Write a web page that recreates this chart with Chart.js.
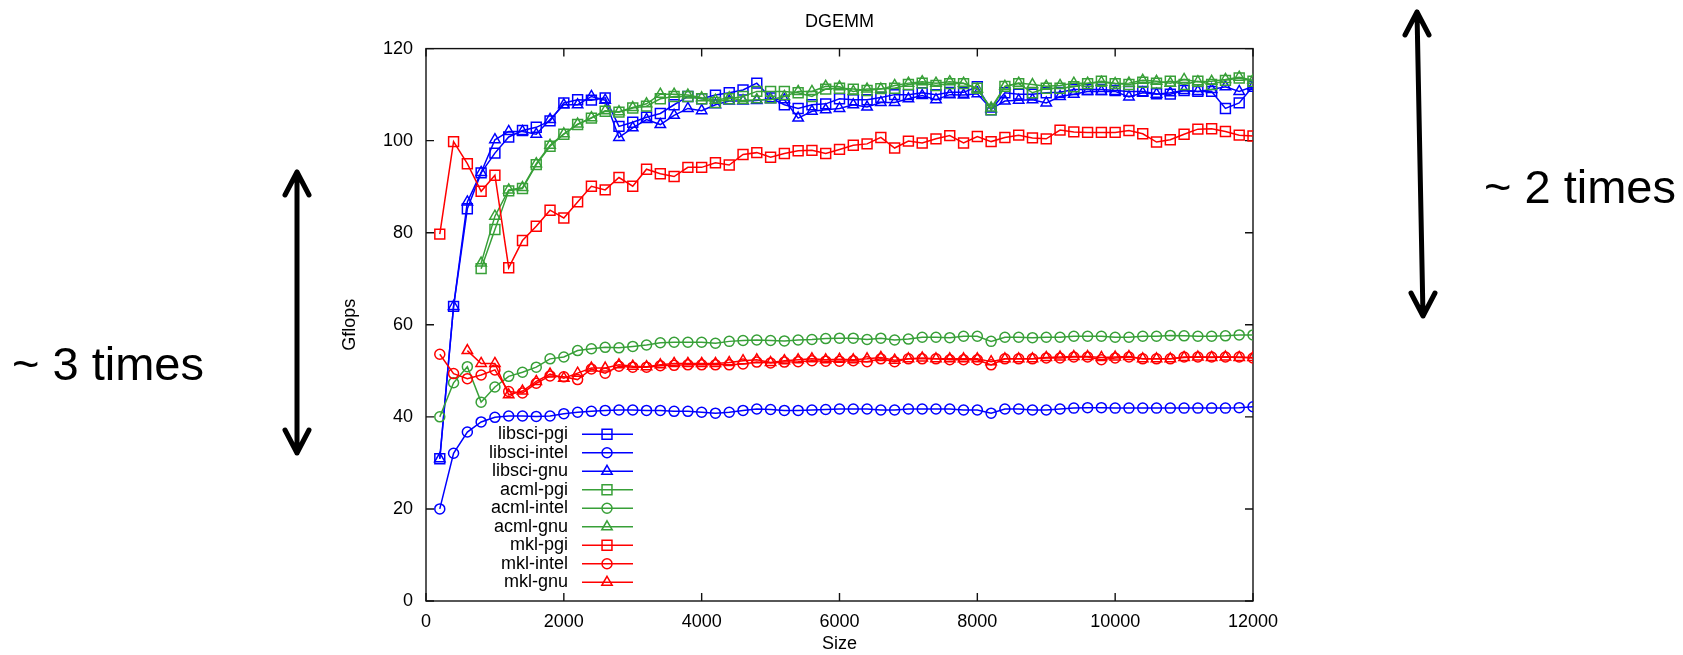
<!DOCTYPE html>
<html>
<head>
<meta charset="utf-8">
<title>DGEMM</title>
<script src="https://cdn.jsdelivr.net/npm/chart.js@4.4.1/dist/chart.umd.min.js"></script>
<style>
  html, body { margin: 0; padding: 0; background: #fff; }
  .chart-container { position: relative; width: 1683px; height: 655px; }
</style>
</head>
<body>
<div class="chart-container"><canvas id="dgemm-chart"></canvas></div>
<script>
// Matrix sizes (x axis)
const sizes = [
  200, 400, 600, 800, 1000, 1200, 1400, 1600, 1800, 2000,
  2200, 2400, 2600, 2800, 3000, 3200, 3400, 3600, 3800, 4000,
  4200, 4400, 4600, 4800, 5000, 5200, 5400, 5600, 5800, 6000,
  6200, 6400, 6600, 6800, 7000, 7200, 7400, 7600, 7800, 8000,
  8200, 8400, 8600, 8800, 9000, 9200, 9400, 9600, 9800, 10000,
  10200, 10400, 10600, 10800, 11000, 11200, 11400, 11600, 11800, 12000,
];

const libsciPgi = [
  30.9, 64.0, 85.2, 93.0, 97.3, 100.8, 102.2, 102.9, 104.3, 108.2,
  108.9, 108.8, 109.3, 103.1, 104.0, 105.1, 105.9, 107.8, 109.6, 109.1,
  109.9, 110.4, 111.0, 112.5, 109.3, 107.8, 107.0, 107.8, 108.0, 109.1,
  108.9, 108.9, 109.4, 110.0, 110.0, 110.4, 110.0, 110.5, 110.5, 111.7,
  106.7, 110.4, 110.1, 110.1, 110.4, 110.5, 111.1, 111.1, 111.1, 110.9,
  110.7, 110.7, 110.2, 110.1, 110.9, 110.7, 110.7, 107.0, 108.2, 111.8,
];
const libsciIntel = [
  20.0, 32.1, 36.7, 38.9, 39.9, 40.2, 40.2, 40.1, 40.2, 40.7,
  41.0, 41.2, 41.4, 41.5, 41.5, 41.4, 41.4, 41.2, 41.2, 41.0,
  40.8, 41.0, 41.4, 41.7, 41.6, 41.4, 41.4, 41.5, 41.6, 41.7,
  41.7, 41.7, 41.5, 41.5, 41.7, 41.7, 41.7, 41.7, 41.5, 41.5,
  40.8, 41.7, 41.7, 41.5, 41.5, 41.7, 41.9, 42.0, 42.0, 41.9,
  41.9, 41.9, 41.9, 41.9, 41.9, 41.9, 41.9, 41.9, 42.0, 42.2,
];
const libsciGnu = [
  30.9, 64.0, 86.7, 93.1, 100.2, 102.0, 102.0, 101.4, 104.6, 107.8,
  107.8, 109.6, 108.8, 100.7, 102.8, 104.6, 103.5, 105.5, 107.0, 106.5,
  107.8, 108.6, 108.6, 108.7, 109.1, 108.9, 104.9, 106.4, 106.7, 107.0,
  107.8, 107.3, 108.3, 108.3, 109.1, 109.8, 108.9, 110.0, 109.9, 110.2,
  106.9, 108.6, 108.8, 108.9, 108.2, 109.6, 110.1, 110.7, 110.7, 110.7,
  109.5, 110.4, 110.1, 110.4, 110.9, 110.7, 111.1, 111.7, 110.7, 111.8,
];
const acmlPgi = [
  null, null, null, 72.2, 80.7, 89.1, 89.6, 94.8, 98.8, 101.4,
  103.5, 104.9, 106.4, 106.2, 107.1, 107.5, 109.1, 109.6, 109.6, 109.1,
  108.3, 109.1, 109.6, 110.7, 110.7, 110.7, 110.4, 109.6, 111.2, 111.4,
  111.2, 110.9, 111.3, 111.4, 112.2, 112.5, 112.0, 112.4, 112.4, 111.4,
  106.7, 111.8, 112.4, 110.4, 111.4, 111.4, 111.7, 112.4, 112.9, 112.4,
  112.2, 112.7, 112.5, 112.9, 112.2, 112.9, 112.2, 113.1, 113.6, 112.9,
];
const acmlIntel = [
  40.0, 47.4, 50.9, 43.2, 46.5, 48.8, 49.7, 50.8, 52.6, 53.0,
  54.4, 54.8, 55.1, 55.0, 55.3, 55.6, 56.1, 56.2, 56.2, 56.2,
  56.0, 56.4, 56.6, 56.7, 56.6, 56.5, 56.7, 56.8, 57.0, 57.1,
  57.1, 56.8, 57.1, 56.7, 56.9, 57.3, 57.3, 57.2, 57.5, 57.5,
  56.4, 57.3, 57.3, 57.2, 57.3, 57.3, 57.5, 57.5, 57.5, 57.3,
  57.3, 57.5, 57.5, 57.7, 57.6, 57.5, 57.5, 57.6, 57.8, 57.8,
];
const acmlGnu = [
  null, null, null, 73.4, 83.6, 89.3, 89.8, 95.0, 99.0, 101.5,
  103.6, 105.0, 106.5, 106.3, 107.2, 108.0, 110.1, 110.1, 109.9, 109.3,
  108.8, 109.3, 108.7, 108.9, 108.9, 109.6, 110.7, 110.7, 111.8, 111.7,
  110.7, 111.2, 111.2, 112.0, 112.5, 112.8, 112.5, 112.8, 112.5, 111.2,
  107.1, 111.8, 112.5, 112.2, 111.8, 112.0, 112.5, 112.5, 112.7, 112.4,
  112.5, 113.1, 112.9, 112.5, 113.3, 112.8, 112.9, 113.3, 113.8, 113.1,
];
const mklPgi = [
  79.7, 99.8, 95.0, 89.0, 92.5, 72.4, 78.3, 81.4, 84.9, 83.2,
  86.7, 90.1, 89.3, 92.0, 90.1, 93.8, 92.8, 92.2, 94.2, 94.2,
  95.2, 94.7, 97.0, 97.4, 96.4, 97.2, 97.8, 97.9, 97.2, 98.1,
  99.0, 99.3, 100.7, 98.4, 99.9, 99.5, 100.4, 101.1, 99.5, 100.9,
  99.8, 100.7, 101.2, 100.6, 100.4, 102.3, 101.9, 101.8, 101.8, 101.8,
  102.2, 101.5, 99.7, 100.2, 101.4, 102.5, 102.6, 102.0, 101.2, 101.0,
];
const mklIntel = [
  53.6, 49.4, 48.3, 49.1, 50.2, 45.5, 45.2, 47.3, 48.9, 48.7,
  48.1, 50.4, 49.5, 51.0, 50.8, 50.8, 51.1, 51.2, 51.3, 51.3,
  51.3, 51.3, 51.5, 51.9, 51.7, 51.9, 52.0, 52.2, 52.1, 52.1,
  52.2, 52.0, 52.6, 52.0, 52.6, 52.6, 52.6, 52.4, 52.4, 52.4,
  51.3, 52.6, 52.6, 52.6, 52.8, 52.8, 53.0, 53.0, 52.4, 52.8,
  53.0, 52.6, 52.6, 52.6, 53.0, 53.0, 53.0, 53.0, 53.0, 52.8,
];
const mklGnu = [
  null, null, 54.4, 51.6, 51.6, 44.8, 45.6, 47.7, 49.3, 48.4,
  49.5, 50.6, 50.6, 51.3, 51.0, 50.9, 51.3, 51.6, 51.6, 51.6,
  51.6, 51.8, 52.2, 52.4, 51.8, 52.2, 52.4, 52.6, 52.4, 52.5,
  52.4, 52.6, 52.9, 52.3, 52.6, 52.8, 52.6, 52.6, 52.6, 52.6,
  52.0, 52.6, 52.6, 52.6, 52.9, 53.0, 53.1, 53.1, 52.9, 53.0,
  53.1, 52.6, 52.6, 52.6, 52.9, 53.0, 52.9, 53.0, 52.9, 52.9,
];

// Axis ticks
const xTicks = [0, 2000, 4000, 6000, 8000, 10000, 12000];
const yTicks = [0, 20, 40, 60, 80, 100, 120];

const BLUE = "#0000ff";
const GREEN = "#38a038";
const RED = "#ff0000";
const FONT = "'Liberation Sans', Arial, Helvetica, sans-serif";
const TICK_LEN = 8;

// marker radius per point style (so squares, circles, triangles look ~10px)
const markerRadius = { rect: 7, circle: 5, triangle: 6 };

const series = [
  ["libsci-pgi", libsciPgi, BLUE, "rect"],
  ["libsci-intel", libsciIntel, BLUE, "circle"],
  ["libsci-gnu", libsciGnu, BLUE, "triangle"],
  ["acml-pgi", acmlPgi, GREEN, "rect"],
  ["acml-intel", acmlIntel, GREEN, "circle"],
  ["acml-gnu", acmlGnu, GREEN, "triangle"],
  ["mkl-pgi", mklPgi, RED, "rect"],
  ["mkl-intel", mklIntel, RED, "circle"],
  ["mkl-gnu", mklGnu, RED, "triangle"],
];

function makeDataset([label, values, color, style], i) {
  return {
    label: label,
    data: values
      .map((v, k) => ({ x: sizes[k], y: v }))
      .filter((p) => p.y !== null),
    borderColor: color,
    backgroundColor: color,
    borderWidth: 1.5,
    pointStyle: style,
    pointRadius: markerRadius[style],
    pointBorderWidth: 1.5,
    pointBorderColor: color,
    pointBackgroundColor: "rgba(0,0,0,0)",
    tension: 0,
    fill: false,
    order: series.length - i, // later series drawn on top, like gnuplot
  };
}

// Border box with inward ticks on all four sides (gnuplot style)
const frameTicks = {
  id: "frameTicks",
  beforeDatasetsDraw(chart) {
    const { ctx, chartArea: a, scales } = chart;
    ctx.save();
    ctx.strokeStyle = "#111";
    ctx.lineWidth = 1.4;
    ctx.strokeRect(a.left, a.top, a.right - a.left, a.bottom - a.top);
    ctx.beginPath();
    xTicks.forEach((v) => {
      const px = scales.x.getPixelForValue(v);
      ctx.moveTo(px, a.bottom);
      ctx.lineTo(px, a.bottom - TICK_LEN);
      ctx.moveTo(px, a.top);
      ctx.lineTo(px, a.top + TICK_LEN);
    });
    yTicks.forEach((v) => {
      const py = scales.y.getPixelForValue(v);
      ctx.moveTo(a.left, py);
      ctx.lineTo(a.left + TICK_LEN, py);
      ctx.moveTo(a.right, py);
      ctx.lineTo(a.right - TICK_LEN, py);
    });
    ctx.stroke();
    ctx.restore();
  },
};

// Key inside the plot: label, then a line sample with the marker
const plotKey = {
  id: "plotKey",
  afterDatasetsDraw(chart) {
    const { ctx, chartArea: a } = chart;
    ctx.save();
    ctx.font = "18px " + FONT;
    ctx.textAlign = "right";
    ctx.textBaseline = "middle";
    chart.data.datasets.forEach((ds, i) => {
      const y = a.bottom - 166.7 + i * 18.5;
      ctx.fillStyle = "#000";
      ctx.fillText(ds.label, a.left + 142, y);
      ctx.strokeStyle = ds.borderColor;
      ctx.lineWidth = ds.borderWidth;
      ctx.beginPath();
      ctx.moveTo(a.left + 156, y);
      ctx.lineTo(a.left + 207, y);
      ctx.stroke();
      ctx.fillStyle = "rgba(0,0,0,0)";
      ctx.lineWidth = ds.pointBorderWidth;
      Chart.helpers.drawPoint(
        ctx,
        { pointStyle: ds.pointStyle, radius: ds.pointRadius, borderWidth: ds.pointBorderWidth, rotation: 0 },
        a.left + 181,
        y
      );
    });
    ctx.restore();
  },
};

// The two double arrows and their notes
function doubleArrow(ctx, x1, y1, x2, y2) {
  ctx.beginPath();
  ctx.moveTo(x1, y1);
  ctx.lineTo(x2, y2);
  ctx.moveTo(x1 - 12, y1 + 23);
  ctx.lineTo(x1, y1);
  ctx.lineTo(x1 + 12, y1 + 23);
  ctx.moveTo(x2 - 12, y2 - 23);
  ctx.lineTo(x2, y2);
  ctx.lineTo(x2 + 12, y2 - 23);
  ctx.stroke();
}

const notes = {
  id: "notes",
  afterDraw(chart) {
    const ctx = chart.ctx;
    ctx.save();
    ctx.strokeStyle = "#000";
    ctx.lineWidth = 5;
    ctx.lineCap = "round";
    ctx.lineJoin = "round";
    doubleArrow(ctx, 297, 172, 297, 453);
    doubleArrow(ctx, 1417, 12, 1423, 316);
    ctx.fillStyle = "#000";
    ctx.font = "47px " + FONT;
    ctx.textAlign = "left";
    ctx.textBaseline = "alphabetic";
    ctx.fillText("~ 3 times", 12, 380);
    ctx.fillText("~ 2 times", 1484, 203);
    ctx.restore();
  },
};

Chart.defaults.font.family = FONT;
Chart.defaults.color = "#000";

const ctx = document.getElementById("dgemm-chart").getContext("2d");
new Chart(ctx, {
  type: "line",
  data: { datasets: series.map(makeDataset) },
  options: {
    responsive: true,
    maintainAspectRatio: false,
    animation: false,
    events: [],
    layout: { padding: { left: 339, right: 430, top: 0, bottom: 0 } },
    plugins: {
      legend: { display: false },
      tooltip: { enabled: false },
      title: {
        display: true,
        text: "DGEMM",
        fullSize: false,
        color: "#000",
        font: { size: 18, weight: "normal" },
        padding: { top: 11, bottom: 16 },
      },
    },
    scales: {
      x: {
        type: "linear",
        min: 0,
        max: 12000,
        afterFit: (scale) => { scale.height = 54; },
        afterBuildTicks: (scale) => { scale.ticks = xTicks.map((v) => ({ value: v })); },
        ticks: {
          color: "#000",
          font: { size: 18 },
          padding: 10,
          maxRotation: 0,
          autoSkip: false,
          callback: (v) => String(v),
        },
        grid: { display: false, drawTicks: false },
        border: { display: false },
        title: {
          display: true,
          text: "Size",
          color: "#000",
          font: { size: 18 },
          padding: { top: 0, bottom: 0 },
        },
      },
      y: {
        type: "linear",
        min: 0,
        max: 120,
        afterFit: (scale) => { scale.width = 87; },
        afterBuildTicks: (scale) => { scale.ticks = yTicks.map((v) => ({ value: v })); },
        ticks: {
          color: "#000",
          font: { size: 18 },
          padding: 13,
          autoSkip: false,
          callback: (v) => String(v),
        },
        grid: { display: false, drawTicks: false },
        border: { display: false },
        title: {
          display: true,
          text: "Gflops",
          color: "#000",
          font: { size: 18 },
          padding: { top: 0, bottom: 0 },
        },
      },
    },
  },
  plugins: [frameTicks, plotKey, notes],
});
</script>
</body>
</html>
